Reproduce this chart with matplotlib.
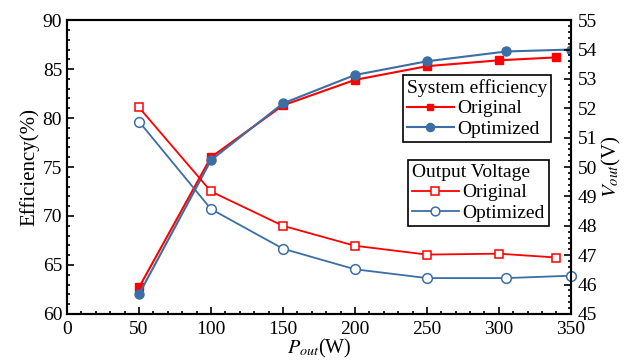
import matplotlib
matplotlib.use("Agg")
import matplotlib.pyplot as plt
from matplotlib.ticker import MultipleLocator

plt.rcParams['font.family'] = ['Liberation Serif', 'DejaVu Serif']
plt.rcParams['mathtext.fontset'] = 'stix'

# Data
p_eff_orig = [50, 100, 150, 200, 250, 300, 340]
eff_orig = [62.7, 76.0, 81.3, 83.9, 85.3, 85.9, 86.2]
p_eff_opt = [50, 100, 150, 200, 250, 305, 350]
eff_opt = [62.0, 75.7, 81.5, 84.4, 85.8, 86.8, 87.0]

p_v_orig = [50, 100, 150, 200, 250, 300, 340]
v_orig = [52.03, 49.17, 48.0, 47.32, 47.02, 47.05, 46.92]
p_v_opt = [50, 100, 150, 200, 250, 305, 350]
v_opt = [51.55, 48.57, 47.22, 46.52, 46.22, 46.22, 46.30]

RED = '#FF0000'
BLUE = '#3A6EA5'

fig = plt.figure(figsize=(6.35, 3.6), dpi=100)
ax = fig.add_axes([0.1055, 0.128, 0.7935, 0.816])
ax2 = ax.twinx()

l1, = ax.plot(p_eff_orig, eff_orig, color=RED, marker='s', ms=5.5, lw=1.5, mfc=RED, mec=RED, zorder=3)
l2, = ax.plot(p_eff_opt, eff_opt, color=BLUE, marker='o', ms=6.5, lw=1.5, mfc=BLUE, mec=BLUE, zorder=3)
l3, = ax2.plot(p_v_orig, v_orig, color=RED, marker='s', ms=6, lw=1.3, mfc='white', mec=RED, mew=1.1, clip_on=False)
l4, = ax2.plot(p_v_opt, v_opt, color=BLUE, marker='o', ms=7, lw=1.3, mfc='white', mec=BLUE, mew=1.1, clip_on=False)

ax.set_xlim(0, 350)
ax.set_ylim(60, 90)
ax2.set_ylim(45, 55)
ax.xaxis.set_major_locator(MultipleLocator(50))
ax.xaxis.set_minor_locator(MultipleLocator(10))
ax.yaxis.set_major_locator(MultipleLocator(5))
ax.yaxis.set_minor_locator(MultipleLocator(1))
ax2.yaxis.set_major_locator(MultipleLocator(1))
ax2.yaxis.set_minor_locator(MultipleLocator(0.2))

for a in (ax, ax2):
    a.tick_params(which='both', direction='in', labelsize=14, width=1.2)
    a.tick_params(which='major', length=5)
    a.tick_params(which='minor', length=2.5)
    for s in a.spines.values():
        s.set_linewidth(1.5)
ax.tick_params(which='both', top=False, right=False)
ax.tick_params(axis='x', pad=5)
ax2.tick_params(axis='y', pad=5)

ax.set_xlabel('$P_{out}$(W)', fontsize=14.5, labelpad=-0.5)
ax.set_ylabel('Efficiency(%)', fontsize=15, labelpad=2)
ax2.set_ylabel('$V_{out}$(V)', fontsize=15, labelpad=2)

common = dict(fontsize=14, title_fontsize=14, fancybox=False, edgecolor='black', framealpha=1,
              borderpad=0.2, handlelength=2.4, handletextpad=0.2, labelspacing=0.15,
              borderaxespad=0, markerscale=0.9)
leg1 = ax2.legend([l1, l2], ['Original', 'Optimized'], title='System efficiency',
                  loc='upper left', bbox_to_anchor=(0.667, 0.813), **common)
leg1._legend_box.align = 'left'
leg1.get_frame().set_linewidth(1.2)
ax2.add_artist(leg1)
leg2 = ax2.legend([l3, l4], ['Original', 'Optimized'], title='Output Voltage',
                  loc='upper left', bbox_to_anchor=(0.677, 0.524), **common)
leg2._legend_box.align = 'left'
leg2.get_frame().set_linewidth(1.2)

fig.savefig('out.png', dpi=100)
